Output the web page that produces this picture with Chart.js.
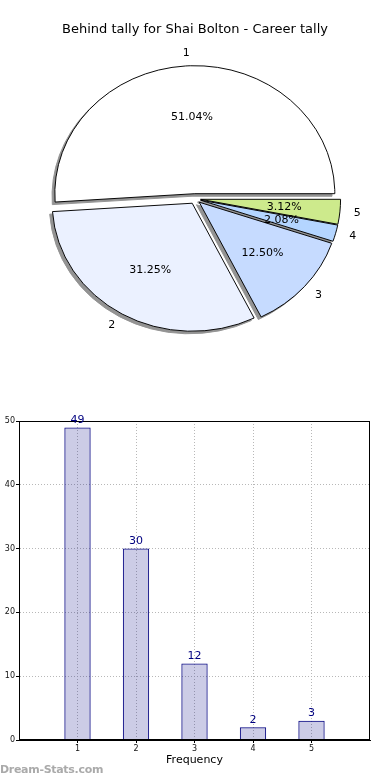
<!DOCTYPE html>
<html><head><meta charset="utf-8">
<script src="https://cdn.jsdelivr.net/npm/chart.js@4.4.1/dist/chart.umd.min.js"></script>
<style>
html,body{margin:0;padding:0;background:#fff;width:390px;height:780px;overflow:hidden;position:relative;}
#pieWrap{position:absolute;left:0;top:0;width:390px;height:360px;}
#barWrap{position:absolute;left:0;top:380px;width:390px;height:400px;}
#wm{position:absolute;left:0;top:763px;font:bold 11px "DejaVu Sans";color:#aaaaaa;white-space:nowrap;letter-spacing:-0.3px;}
</style></head><body>
<div id="pieWrap"><canvas id="pie"></canvas></div>
<div id="barWrap"><canvas id="bar"></canvas></div>
<div id="wm">Dream-Stats.com</div>
<script>
const chartTitle = 'Behind tally for Shai Bolton - Career tally';
const categories = ['1', '2', '3', '4', '5'];
const counts = [49, 30, 12, 2, 3];
const sliceColors = ['#ffffff', '#ebf1ff', '#c6dbff', '#b4d5ff', '#cdea8c'];
const yTickValues = [0, 10, 20, 30, 40, 50];
const xAxisTitle = 'Frequency';
const watermark = 'Dream-Stats.com';

const EXPLODE = 0.04;
const SHADOW = 0.02;
const SY = 128 / 140;

// matplotlib draws counter-clockwise from 3 o'clock; Chart.js clockwise -> reverse order
const pieLabels = categories.slice().reverse();
const pieValues = counts.slice().reverse();
const pieColors = sliceColors.slice().reverse();
const total = counts.reduce((a, b) => a + b, 0);

function fmtPct(v) {
  const s = v / total * 10000;
  let n = Math.floor(s);
  const diff = s - n;
  if (Math.abs(diff - 0.5) < 1e-7) { if (n % 2 === 1) n += 1; }
  else if (diff > 0.5) n += 1;
  return (n / 100).toFixed(2) + '%';
}

const pieDraw = {
  id: 'pieDraw',
  beforeDatasetDraw(chart, args) {
    const ctx = chart.ctx;
    const els = args.meta.data;
    const pass = (shadow) => {
      els.forEach(el => {
        const mid = (el.startAngle + el.endAngle) / 2;
        const r = el.outerRadius;
        const d = EXPLODE * r;
        ctx.save();
        ctx.translate(el.x, el.y);
        ctx.scale(1, SY);
        ctx.translate(-el.x, -el.y);
        ctx.translate(Math.cos(mid) * d, Math.sin(mid) * d);
        if (shadow) {
          ctx.translate(-SHADOW * r, SHADOW * r);
          ctx.filter = 'brightness(0) invert(0.58)';
        }
        el.draw(ctx);
        ctx.restore();
      });
    };
    pass(true);
    pass(false);
    return false;
  },
  afterDraw(chart) {
    const ctx = chart.ctx;
    const meta = chart.getDatasetMeta(0);
    ctx.save();
    ctx.font = '11px "DejaVu Sans"';
    ctx.fillStyle = '#000';
    ctx.textBaseline = 'middle';
    meta.data.forEach((el, i) => {
      const mid = (el.startAngle + el.endAngle) / 2;
      const r = el.outerRadius;
      const d = EXPLODE * r;
      const c = Math.cos(mid), s = Math.sin(mid);
      const cx = el.x + c * d, cy = el.y + s * d * SY;
      ctx.textAlign = 'center';
      ctx.fillText(fmtPct(pieValues[i]), cx + c * 0.6 * r, cy + s * 0.6 * r * SY);
      ctx.textAlign = c > 0 ? 'left' : 'right';
      ctx.fillText(pieLabels[i], cx + c * 1.1 * r, cy + s * 1.1 * r * SY);
    });
    ctx.restore();
  }
};

new Chart(document.getElementById('pie'), {
  type: 'pie',
  data: {
    labels: pieLabels,
    datasets: [{
      data: pieValues,
      backgroundColor: pieColors,
      borderColor: '#000',
      borderWidth: 1,
      offset: 0,
      radius: 140
    }]
  },
  options: {
    rotation: 90,
    responsive: true,
    maintainAspectRatio: false,
    animation: false,
    events: [],
    layout: { padding: 0 },
    plugins: {
      legend: { display: false },
      tooltip: { enabled: false },
      title: {
        display: true,
        text: chartTitle,
        color: '#000',
        font: { family: 'DejaVu Sans', size: 13, weight: 'normal' },
        padding: { top: 22, bottom: 0 }
      }
    }
  },
  plugins: [pieDraw]
});

const barDecor = {
  id: 'barDecor',
  afterDraw(chart) {
    const ctx = chart.ctx;
    const a = chart.chartArea;
    ctx.save();
    ctx.strokeStyle = '#000';
    ctx.lineWidth = 1;
    ctx.strokeRect(Math.round(a.left) + 0.5, Math.round(a.top) + 0.5, Math.round(a.right - a.left) - 1, Math.round(a.bottom - a.top) - 1);
    const meta = chart.getDatasetMeta(0);
    ctx.font = '11px "DejaVu Sans"';
    ctx.fillStyle = '#000080';
    ctx.textAlign = 'center';
    ctx.textBaseline = 'bottom';
    meta.data.forEach((el, i) => {
      ctx.fillText(String(counts[i]), el.x, el.y - 2);
    });
    ctx.restore();
  }
};

const tickFont = { family: 'DejaVu Sans', size: 8 };
new Chart(document.getElementById('bar'), {
  type: 'bar',
  data: {
    datasets: [{
      data: categories.map((c, i) => ({ x: Number(c), y: counts[i] })),
      backgroundColor: 'rgba(0,0,128,0.2)',
      borderColor: '#000080',
      borderWidth: 1,
      categoryPercentage: 1,
      barPercentage: 0.45
    }]
  },
  options: {
    responsive: true,
    maintainAspectRatio: false,
    animation: false,
    events: [],
    layout: { padding: { top: 41, right: 20, left: 0, bottom: 0 } },
    plugins: { legend: { display: false }, tooltip: { enabled: false } },
    scales: {
      x: {
        type: 'linear', min: 0, max: 6, z: 1, offset: false,
        afterBuildTicks: s => { s.ticks = categories.map(c => ({ value: Number(c) })); },
        afterFit: s => { s.height = 40; },
        ticks: { font: tickFont, color: '#111', padding: 1, autoSkip: false, maxRotation: 0, callback: v => String(v) },
        grid: { offset: false, color: '#b8b8b8', lineWidth: 1, tickLength: 3, tickColor: '#000' },
        border: { display: true, color: '#000', width: 1, dash: [1, 2] },
        title: { display: true, text: xAxisTitle, color: '#000', font: { family: 'DejaVu Sans', size: 11 }, padding: { top: 0, bottom: 13 } }
      },
      y: {
        type: 'linear', min: 0, max: 50, z: 1,
        afterBuildTicks: s => { s.ticks = yTickValues.map(v => ({ value: v })); },
        afterFit: s => { s.width = 19; },
        ticks: { font: tickFont, color: '#111', padding: 1, callback: v => String(v) },
        grid: { color: '#b8b8b8', lineWidth: 1, tickLength: 3, tickColor: '#000' },
        border: { display: true, color: '#000', width: 1, dash: [1, 2] }
      }
    }
  },
  plugins: [barDecor]
});
</script>
</body></html>
